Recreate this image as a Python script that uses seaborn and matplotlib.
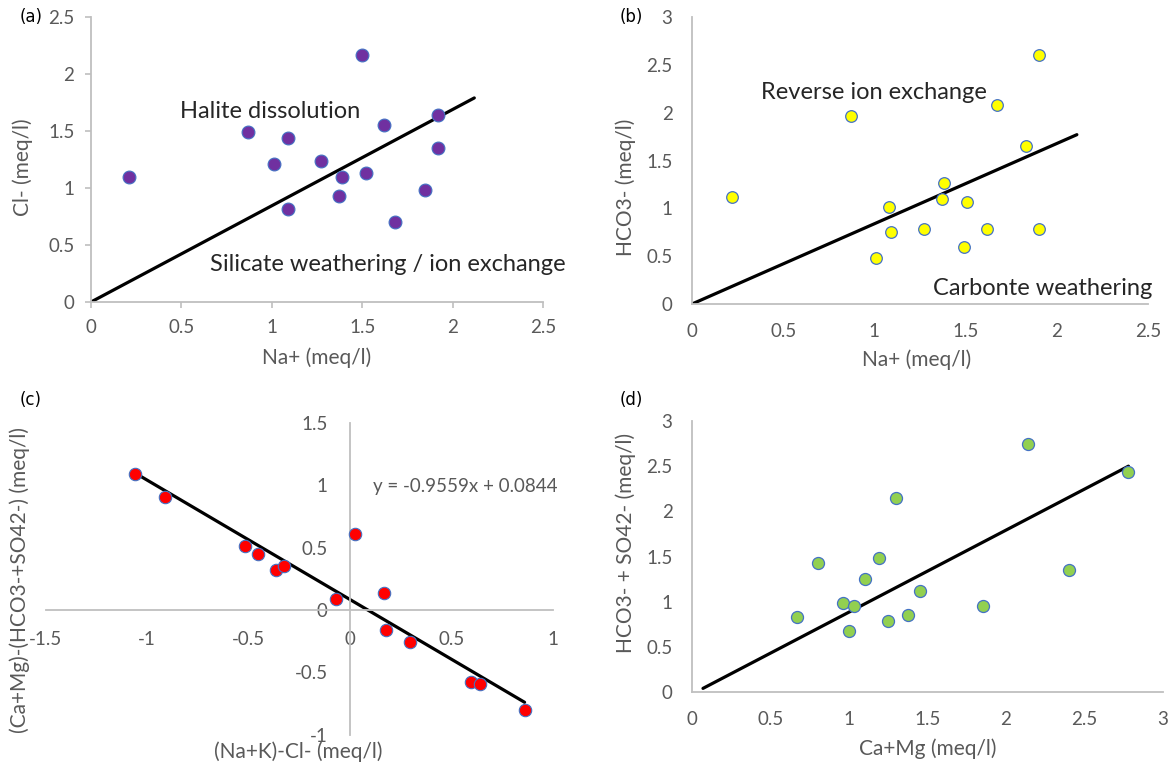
import matplotlib
matplotlib.use("Agg")
import matplotlib.pyplot as plt
import seaborn as sns
import numpy as np

# ---------------- data ----------------
# (a) Na+ vs Cl-
a_na = [0.21, 1.50, 0.87, 1.09, 1.01, 1.27, 1.62, 1.92, 1.92, 1.39, 1.52, 1.37, 1.85, 1.09, 1.68]
a_cl = [1.10, 2.17, 1.49, 1.44, 1.21, 1.24, 1.55, 1.64, 1.35, 1.10, 1.13, 0.93, 0.98, 0.82, 0.70]
a_line_x = [0.0, 2.12]
a_line_y = [0.0, 1.79]

# (b) Na+ vs HCO3-
b_na = [1.90, 1.67, 0.87, 1.83, 0.22, 1.38, 1.37, 1.51, 1.08, 1.09, 1.27, 1.62, 1.90, 1.49, 1.01]
b_hco3 = [2.60, 2.08, 1.97, 1.65, 1.115, 1.26, 1.10, 1.07, 1.01, 0.75, 0.78, 0.78, 0.78, 0.60, 0.48]
b_line_x = [0.0, 2.11]
b_line_y = [0.0, 1.77]

# (c) (Na+K)-Cl- vs (Ca+Mg)-(HCO3-+SO42-)
c_x = [-1.06, -0.91, -0.515, -0.452, -0.364, -0.323, -0.07, 0.027, 0.167, 0.178, 0.298, 0.598, 0.638, 0.861]
c_y = [1.09, 0.91, 0.51, 0.45, 0.32, 0.35, 0.088, 0.607, 0.134, -0.16, -0.26, -0.575, -0.593, -0.80]
c_line_x = [-1.06, 0.86]
c_line_y = [1.10, -0.74]
c_equation = "y = -0.9559x + 0.0844"

# (d) Ca+Mg vs HCO3- + SO42-
d_x = [2.14, 2.78, 1.30, 0.80, 1.19, 1.10, 2.40, 1.45, 0.96, 1.03, 1.855, 0.667, 1.374, 1.246, 1.00]
d_y = [2.75, 2.43, 2.145, 1.425, 1.48, 1.25, 1.355, 1.115, 0.98, 0.955, 0.95, 0.83, 0.85, 0.79, 0.67]
d_line_x = [0.07, 2.78]
d_line_y = [0.04, 2.50]

# ---------------- style ----------------
sns.set_theme(style="white")
plt.rcParams['font.family'] = ['Lato', 'DejaVu Sans']

TICK_C = "#595959"
AXIS_C = "#bfbfbf"
EDGE_C = "#4472C4"
TICK_FS = 13.5
LABEL_FS = 15
NOTE_FS = 17

fig = plt.figure(figsize=(11.71, 7.62), dpi=100)

def style_axes(ax, ticks_out=False):
    for s in ["top", "right"]:
        ax.spines[s].set_visible(False)
    for s in ["left", "bottom"]:
        ax.spines[s].set_color(AXIS_C)
        ax.spines[s].set_linewidth(1.3)
    ax.tick_params(colors=TICK_C, labelsize=TICK_FS, labelcolor=TICK_C)
    if ticks_out:
        ax.tick_params(axis="both", direction="out", length=4, width=1.2, color=AXIS_C, pad=8,
                       left=True, bottom=True)
    else:
        ax.tick_params(axis="both", length=0, pad=14, left=False, bottom=False)
    ax.grid(False)

def fmt(v):
    return f"{v:g}"

# ---------- (a) ----------
ax = fig.add_axes([91/1171, 1-302/762, 452/1171, 285/762])
sns.lineplot(x=a_line_x, y=a_line_y, ax=ax, color="black", linewidth=2.3, sort=False)
sns.scatterplot(x=a_na, y=a_cl, ax=ax, color="#7030A0", edgecolor=EDGE_C, linewidth=0.8, s=85, zorder=3)
ax.set_xlim(0, 2.5); ax.set_ylim(0, 2.5)
ticks = [0, 0.5, 1, 1.5, 2, 2.5]
ax.set_xticks(ticks); ax.set_xticklabels([fmt(t) for t in ticks])
ax.set_yticks(ticks); ax.set_yticklabels([fmt(t) for t in ticks])
style_axes(ax, ticks_out=True)
ax.set_xlabel("Na+ (meq/l)", fontsize=LABEL_FS, color=TICK_C)
ax.set_ylabel("Cl- (meq/l)", fontsize=LABEL_FS, color=TICK_C)
ax.xaxis.set_label_coords(0.5, -0.158)
ax.yaxis.set_label_coords(-0.128, 0.474)
ax.text(0.49, 1.67, "Halite dissolution", fontsize=NOTE_FS, color="#262626", va="center", ha="left")
ax.text(0.66, 0.325, "Silicate weathering / ion exchange", fontsize=NOTE_FS, color="#262626",
        va="center", ha="left", clip_on=False)
fig.text(20/1171, 1-17/762, "(a)", fontsize=12, family="DejaVu Sans", color="black", va="center", ha="left")

# ---------- (b) ----------
ax = fig.add_axes([692/1171, 1-304/762, 456/1171, 287/762])
sns.lineplot(x=b_line_x, y=b_line_y, ax=ax, color="black", linewidth=2.3, sort=False)
sns.scatterplot(x=b_na, y=b_hco3, ax=ax, color="#FFFF00", edgecolor=EDGE_C, linewidth=0.9, s=70, zorder=3)
ax.set_xlim(0, 2.5); ax.set_ylim(0, 3)
xt = [0, 0.5, 1, 1.5, 2, 2.5]
yt = [0, 0.5, 1, 1.5, 2, 2.5, 3]
ax.set_xticks(xt); ax.set_xticklabels([fmt(t) for t in xt])
ax.set_yticks(yt); ax.set_yticklabels([fmt(t) for t in yt])
style_axes(ax)
ax.set_xlabel("Na+ (meq/l)", fontsize=LABEL_FS, color=TICK_C)
ax.set_ylabel("HCO3- (meq/l)", fontsize=LABEL_FS, color=TICK_C)
ax.xaxis.set_label_coords(0.493, -0.157)
ax.yaxis.set_label_coords(-0.123, 0.408)
ax.text(0.38, 2.215, "Reverse ion exchange", fontsize=NOTE_FS, color="#262626", va="center", ha="left")
ax.text(1.32, 0.16, "Carbonte weathering", fontsize=NOTE_FS, color="#262626", va="center", ha="left")
fig.text(620/1171, 1-17/762, "(b)", fontsize=12, family="DejaVu Sans", color="black", va="center", ha="left")

# ---------- (c) ----------
ax = fig.add_axes([45.5/1171, 1-734.7/762, 507.5/1171, 311.7/762])
sns.lineplot(x=c_line_x, y=c_line_y, ax=ax, color="black", linewidth=2.3, sort=False)
sns.scatterplot(x=c_x, y=c_y, ax=ax, color="#FF0000", edgecolor=EDGE_C, linewidth=0.8, s=80, zorder=3)
ax.set_xlim(-1.5, 1); ax.set_ylim(-1, 1.5)
xt = [-1.5, -1, -0.5, 0, 0.5, 1]
yt = [-1, -0.5, 0, 0.5, 1, 1.5]
ax.set_xticks(xt); ax.set_xticklabels([fmt(t) for t in xt])
ax.set_yticks(yt); ax.set_yticklabels([fmt(t) for t in yt])
style_axes(ax)
ax.spines["left"].set_position(("data", 0))
ax.spines["bottom"].set_position(("data", 0))
ax.tick_params(axis="x", pad=15)
ax.tick_params(axis="y", pad=16)
ax.set_xlabel("(Na+K)-Cl- (meq/l)", fontsize=LABEL_FS, color=TICK_C)
ax.set_ylabel("(Ca+Mg)-(HCO3-+SO42-) (meq/l)", fontsize=LABEL_FS, color=TICK_C)
ax.xaxis.set_label_coords(0.4975, -0.02)
ax.yaxis.set_label_coords(-0.031, 0.496)
ax.text(0.115, 0.99, c_equation, fontsize=13.5, color=TICK_C, va="center", ha="left")
fig.text(20/1171, 1-400/762, "(c)", fontsize=12, family="DejaVu Sans", color="black", va="center", ha="left")

# ---------- (d) ----------
ax = fig.add_axes([692/1171, 1-692/762, 471/1171, 271/762])
sns.lineplot(x=d_line_x, y=d_line_y, ax=ax, color="black", linewidth=2.3, sort=False)
sns.scatterplot(x=d_x, y=d_y, ax=ax, color="#92D050", edgecolor=EDGE_C, linewidth=0.9, s=75, zorder=3)
ax.set_xlim(0, 3); ax.set_ylim(0, 3)
t = [0, 0.5, 1, 1.5, 2, 2.5, 3]
ax.set_xticks(t); ax.set_xticklabels([fmt(v) for v in t])
ax.set_yticks(t); ax.set_yticklabels([fmt(v) for v in t])
style_axes(ax)
ax.set_xlabel("Ca+Mg (meq/l)", fontsize=LABEL_FS, color=TICK_C)
ax.set_ylabel("HCO3- + SO42- (meq/l)", fontsize=LABEL_FS, color=TICK_C)
ax.xaxis.set_label_coords(0.5, -0.173)
ax.yaxis.set_label_coords(-0.119, 0.55)
fig.text(620/1171, 1-400/762, "(d)", fontsize=12, family="DejaVu Sans", color="black", va="center", ha="left")

fig.savefig("out.png", dpi=100, facecolor="white")
